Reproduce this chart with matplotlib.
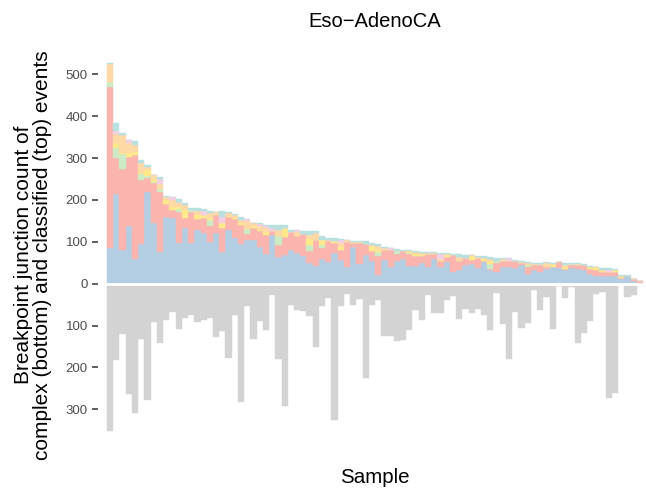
import numpy as np
import matplotlib
matplotlib.use("Agg")
import matplotlib.pyplot as plt

plt.rcParams['font.family'] = ['Liberation Sans', 'DejaVu Sans']

# classified events per sample (stack order bottom -> top)
blue = [84, 213, 80, 138, 58, 94, 218, 144, 76, 160, 156, 96, 132, 98, 129, 121, 100, 121, 76, 128,
        108, 95, 105, 105, 87, 70, 116, 64, 68, 80, 73, 67, 49, 43, 59, 51, 73, 57, 40, 88,
        46, 68, 53, 21, 57, 39, 53, 59, 43, 43, 49, 39, 59, 39, 52, 29, 33, 44, 47, 37,
        52, 33, 29, 41, 39, 37, 45, 23, 33, 27, 35, 40, 37, 32, 37, 35, 33, 23, 18, 18,
        19, 19, 11, 18, 6, 1]
pink = [385, 86, 193, 165, 249, 153, 35, 97, 143, 31, 20, 76, 25, 72, 25, 36, 38, 44, 56, 32,
        46, 45, 14, 28, 38, 47, 9, 29, 43, 43, 42, 52, 28, 62, 26, 50, 24, 24, 59, 9,
        51, 27, 24, 44, 24, 42, 19, 18, 27, 24, 16, 32, 12, 14, 11, 39, 20, 17, 10, 24,
        2, 3, 20, 14, 16, 16, 4, 16, 11, 18, 6, 1, 14, 3, 8, 10, 12, 12, 14, 9,
        8, 10, 3, 1, 4, 5]
green = [13, 24, 36, 0, 0, 14, 5, 3, 7, 0, 0, 6, 0, 5, 0, 0, 14, 0, 0, 0,
         0, 0, 11, 0, 0, 0, 0, 20, 0, 0, 0, 0, 16, 0, 8, 0, 0, 0, 0, 0,
         0, 0, 0, 10, 0, 0, 5, 0, 3, 0, 0, 0, 0, 0, 0, 0, 2, 0, 0, 0,
         0, 11, 6, 0, 0, 0, 0, 6, 0, 3, 0, 0, 0, 0, 2, 0, 0, 0, 0, 0,
         0, 0, 0, 0, 0, 0]
yellow = [0, 14, 3, 10, 8, 4, 13, 7, 0, 8, 8, 6, 18, 0, 10, 8, 5, 0, 12, 0,
          4, 5, 0, 5, 4, 6, 0, 0, 19, 0, 0, 0, 14, 0, 12, 0, 6, 7, 0, 0,
          3, 0, 12, 6, 0, 0, 0, 0, 4, 5, 4, 0, 0, 0, 5, 0, 0, 0, 8, 0,
          5, 7, 0, 0, 0, 0, 0, 0, 0, 0, 0, 6, 0, 6, 0, 0, 0, 5, 8, 3,
          0, 4, 0, 0, 0, 0]
peach = [42, 21, 43, 22, 16, 22, 8, 8, 11, 9, 15, 8, 12, 0, 9, 0, 11, 5, 0, 8,
         6, 8, 19, 7, 8, 10, 0, 14, 4, 0, 8, 0, 10, 17, 0, 4, 0, 8, 6, 3,
         0, 0, 4, 8, 4, 0, 0, 0, 0, 3, 4, 2, 3, 6, 3, 0, 8, 0, 4, 3,
         3, 6, 0, 3, 0, 0, 3, 4, 2, 0, 8, 0, 0, 4, 0, 2, 0, 0, 0, 3,
         0, 0, 5, 0, 0, 0]
lavender = [0, 6, 0, 8, 0, 0, 0, 0, 12, 0, 7, 3, 0, 0, 0, 8, 0, 0, 16, 0,
            0, 0, 5, 0, 6, 5, 8, 0, 0, 0, 4, 0, 0, 0, 0, 0, 0, 9, 0, 0,
            0, 0, 0, 0, 0, 5, 0, 0, 0, 0, 0, 0, 0, 12, 0, 0, 0, 0, 0, 0,
            0, 0, 0, 0, 6, 0, 0, 0, 0, 0, 0, 0, 0, 0, 0, 0, 0, 0, 0, 0,
            6, 0, 0, 0, 0, 0]
teal = [3, 19, 5, 0, 9, 8, 4, 0, 5, 1, 0, 7, 6, 6, 8, 5, 6, 2, 14, 4,
        3, 6, 0, 1, 2, 3, 8, 14, 5, 6, 0, 6, 8, 3, 8, 4, 6, 2, 0, 3,
        3, 6, 4, 6, 3, 0, 6, 3, 3, 2, 3, 2, 1, 2, 2, 3, 8, 8, 0, 2,
        3, 3, 6, 3, 0, 4, 3, 3, 3, 1, 3, 2, 0, 4, 2, 2, 3, 3, 1, 4,
        4, 2, 2, 2, 0, 0]

# complex events per sample (drawn downwards)
complex_ev = [351, 183, 121, 264, 308, 133, 278, 92, 142, 87, 67, 108, 83, 76, 91, 87, 83, 127, 113, 177,
              74, 282, 54, 132, 88, 110, 26, 179, 293, 50, 63, 65, 78, 152, 54, 34, 325, 54, 25, 52,
              37, 225, 52, 40, 124, 125, 137, 135, 111, 64, 86, 26, 70, 70, 38, 29, 84, 60, 70, 60,
              75, 111, 22, 97, 179, 67, 106, 94, 14, 64, 33, 109, 5, 35, 8, 142, 118, 90, 25, 19,
              274, 260, 0, 32, 28, 0]

layers = [blue, pink, green, yellow, peach, lavender, teal]
colors = ['#B3CDE3', '#FBB4AE', '#CCEBC5', '#FEE98A', '#FED9A6', '#F4CFE4', '#B8E0DF']

x = np.arange(len(blue))

fig = plt.figure(figsize=(6.46, 4.91), dpi=100)
ax = fig.add_axes([98 / 646, 0.0982, 548 / 646, 0.7931])

bottom = np.zeros(len(x))
for vals, c in zip(layers, colors):
    vals = np.array(vals, dtype=float)
    ax.bar(x, vals, bottom=bottom, width=1.0, color=c, edgecolor=c, linewidth=0.3)
    bottom += vals

ax.bar(x, -np.array(complex_ev), width=1.0, color='#D3D3D3', edgecolor='#D3D3D3', linewidth=0.3)
ax.axhline(0, color='white', linewidth=2.0)

ax.set_xlim(-1.944, 85.97)
ax.set_ylim(-380, 550)
yt = [-300, -200, -100, 0, 100, 200, 300, 400, 500]
ax.set_yticks(yt)
ax.set_yticklabels([str(abs(v)) for v in yt])
ax.set_xticks([])
for s in ax.spines.values():
    s.set_visible(False)
ax.tick_params(axis='y', length=4.3, width=1.1, color='#333333', labelcolor='#4D4D4D',
               labelsize=9.5, pad=3)

fig.text(375 / 646, 1 - 27 / 491, 'Eso\u2212AdenoCA', ha='center', va='baseline', fontsize=14.5)
fig.text(375 / 646, 1 - 483 / 491, 'Sample', ha='center', va='baseline', fontsize=14.8)
fig.text(33 / 646, 0.481, 'Breakpoint junction count of\ncomplex (bottom) and classified (top) events',
         ha='center', va='center', rotation=90, fontsize=15, linespacing=1.0)

fig.savefig('out.png', dpi=100)
